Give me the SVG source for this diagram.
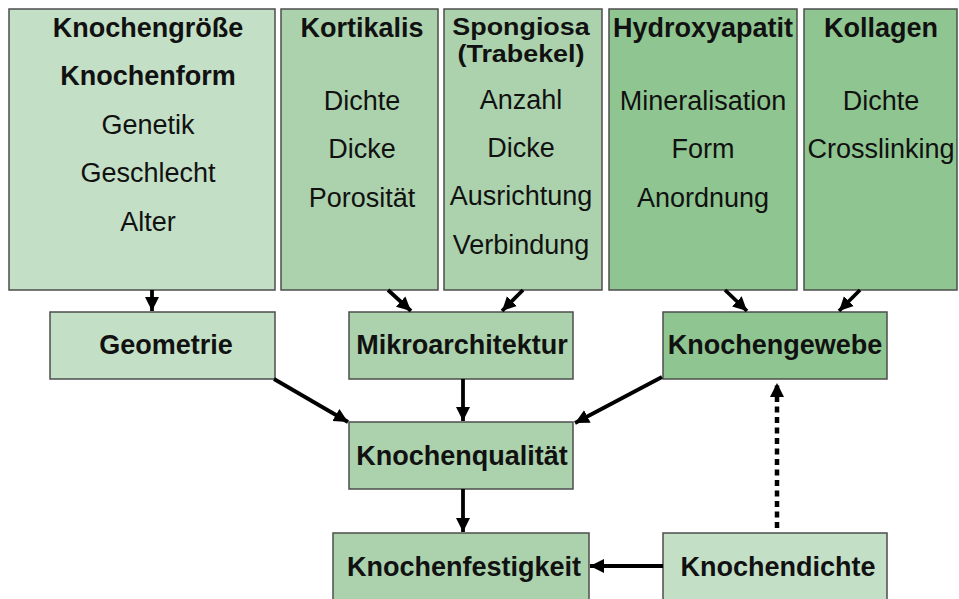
<svg xmlns="http://www.w3.org/2000/svg" width="959" height="599" viewBox="0 0 959 599">
<style>
.box{stroke:#4d4d4d;stroke-width:1.5}
.c1{fill:#c3dfc6}
.c2{fill:#acd2ad}
.c3{fill:#8fc590}
text{font-family:"Liberation Sans",Arial,sans-serif;font-size:27px;fill:#111;text-anchor:middle}
.b{font-weight:bold}
.t{font-size:24px}
.conn{stroke:#000;stroke-width:3.8;fill:none}
.dash{stroke-dasharray:6 4.5;stroke-width:4.5}
</style>
<defs>
<marker id="ah" markerUnits="userSpaceOnUse" markerWidth="16" markerHeight="16" viewBox="0 0 16 16" refX="14" refY="8" orient="auto">
<path d="M0,1 L14,8 L0,15 z" fill="#000"/>
</marker>
</defs>
<rect width="959" height="599" fill="#fff"/>
<g id="n-knochengroesse">
<rect class="box c1" x="9" y="9" width="266" height="281"/>
<text class="b" x="148" y="37">Knochengröße</text>
<text class="b" x="148" y="85">Knochenform</text>
<text x="148" y="134">Genetik</text>
<text x="148" y="182">Geschlecht</text>
<text x="148" y="231">Alter</text>
</g>
<g id="n-kortikalis">
<rect class="box c2" x="281" y="9" width="157" height="281"/>
<text class="b" x="362" y="37">Kortikalis</text>
<text x="362" y="110">Dichte</text>
<text x="362" y="158">Dicke</text>
<text x="362" y="207">Porosität</text>
</g>
<g id="n-spongiosa">
<rect class="box c2" x="444" y="9" width="158" height="281"/>
<text class="b t" x="0" y="35" transform="translate(521,0) scale(1.12,1)">Spongiosa</text>
<text class="b t" x="0" y="62" transform="translate(521,0) scale(1.12,1)">(Trabekel)</text>
<text x="521" y="109">Anzahl</text>
<text x="521" y="157">Dicke</text>
<text x="521" y="205">Ausrichtung</text>
<text x="521" y="254">Verbindung</text>
</g>
<g id="n-hydroxyapatit">
<rect class="box c3" x="609" y="9" width="188" height="281"/>
<text class="b" x="703" y="37">Hydroxyapatit</text>
<text x="703" y="110">Mineralisation</text>
<text x="703" y="158">Form</text>
<text x="703" y="207">Anordnung</text>
</g>
<g id="n-kollagen">
<rect class="box c3" x="804" y="9" width="153" height="281"/>
<text class="b" x="881" y="37">Kollagen</text>
<text x="881" y="110">Dichte</text>
<text x="881" y="158">Crosslinking</text>
</g>
<g id="n-geometrie">
<rect class="box c1" x="50" y="312" width="225" height="67"/>
<text class="b" x="166" y="354">Geometrie</text>
</g>
<g id="n-mikroarchitektur">
<rect class="box c2" x="349" y="312" width="224" height="67"/>
<text class="b" x="462" y="354">Mikroarchitektur</text>
</g>
<g id="n-knochengewebe">
<rect class="box c3" x="663" y="312" width="224" height="67"/>
<text class="b" x="775" y="354">Knochengewebe</text>
</g>
<g id="n-knochenqualitaet">
<rect class="box c2" x="349" y="422" width="224" height="67"/>
<text class="b" x="462" y="465">Knochenqualität</text>
</g>
<g id="n-knochenfestigkeit">
<rect class="box c2" x="333" y="533" width="256" height="70"/>
<text class="b" x="464" y="576">Knochenfestigkeit</text>
</g>
<g id="n-knochendichte">
<rect class="box c1" x="663" y="533" width="224" height="70"/>
<text class="b" x="778" y="576">Knochendichte</text>
</g>
<g id="connectors">
<line class="conn" x1="152" y1="290" x2="152" y2="311" marker-end="url(#ah)"/>
<line class="conn" x1="388" y1="290" x2="411" y2="311" marker-end="url(#ah)"/>
<line class="conn" x1="523" y1="290" x2="502" y2="311" marker-end="url(#ah)"/>
<line class="conn" x1="725" y1="290" x2="747" y2="311" marker-end="url(#ah)"/>
<line class="conn" x1="860" y1="290" x2="839" y2="311" marker-end="url(#ah)"/>
<line class="conn" x1="274" y1="379" x2="348" y2="422" marker-end="url(#ah)"/>
<line class="conn" x1="463" y1="379" x2="463" y2="421" marker-end="url(#ah)"/>
<line class="conn" x1="662" y1="377" x2="575" y2="423" marker-end="url(#ah)"/>
<line class="conn" x1="463" y1="489" x2="463" y2="532" marker-end="url(#ah)"/>
<line class="conn" x1="663" y1="566" x2="590" y2="566" marker-end="url(#ah)"/>
<line class="conn dash" x1="777" y1="528" x2="777" y2="383" marker-end="url(#ah)"/>
</g>
</svg>
